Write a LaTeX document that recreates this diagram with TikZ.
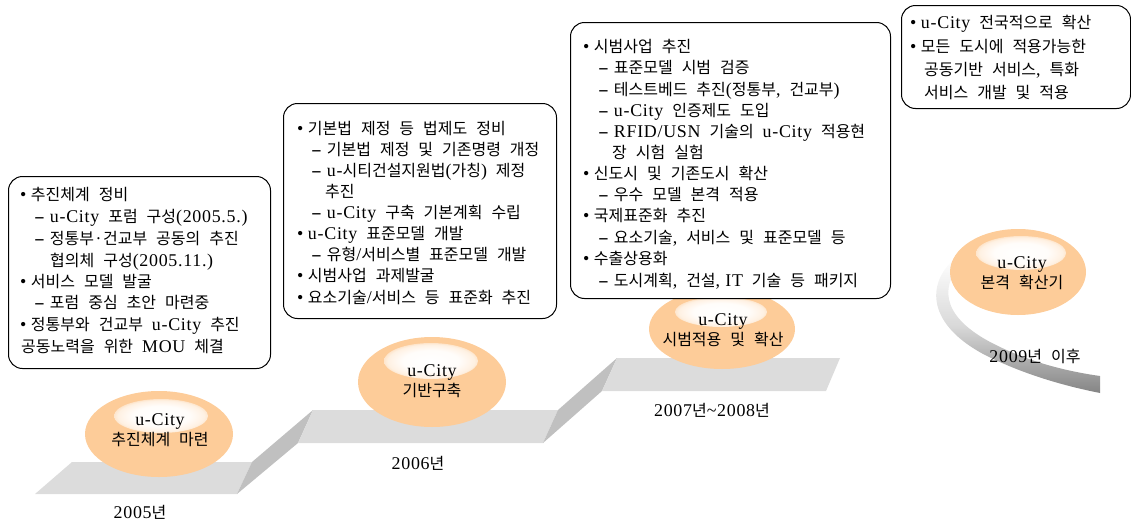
\documentclass[tikz,border=0pt]{standalone}
\usepackage{fontspec}
\setmainfont{Noto Sans CJK KR}[WordSpace=2.5]
\newfontfamily\lat{Liberation Serif}[Scale=1.12, LetterSpace=4]
\newcommand\ltn[1]{{\lat #1}}
\newcommand\bul{{\lat •}\hspace{4.5pt}}
\newcommand\dsh{{\lat\scalebox{1.8}[1]{-}}\hspace{5pt}}
\usetikzlibrary{shapes.geometric}
\definecolor{peach}{RGB}{253,204,153}
\definecolor{stepface}{RGB}{220,220,220}
\definecolor{riser}{RGB}{192,192,192}
\colorlet{hlA}{white!95!peach}
\colorlet{hlB}{white!72!peach}
\pgfdeclareradialshading{hilite}{\pgfpoint{0bp}{0bp}}{color(0bp)=(white); color(15bp)=(hlA); color(23bp)=(hlB); color(30bp)=(peach); color(100bp)=(peach)}
\tikzset{
  txt/.style={anchor=base west, inner sep=0pt, font=\fontsize{16}{18}\selectfont},
  yr/.style={inner sep=0pt, font=\fontsize{16}{18}\selectfont},
  tbox/.style={draw=black, line width=1pt, rounded corners=14pt, fill=white, anchor=north west, inner sep=0pt},
  stage/.style={ellipse, fill=peach, inner sep=0pt},
  stagetxt/.style={align=center, inner sep=0pt, font=\fontsize{16}{19.5}\selectfont},
  hl/.style={shading=hilite},
  face/.style={fill=stepface},
  rise/.style={fill=riser}
}
\begin{document}
\begin{tikzpicture}[x=1pt,y=-1pt]
\useasboundingbox (0,0) rectangle (1131,522);
% steps
\fill[face] (72,462) -- (252,462) -- (237,494) -- (35,494) -- cycle;
\fill[rise] (252,462) -- (313,410) -- (298,443) -- (237,494) -- cycle;
\fill[face] (313,410) -- (558,410) -- (543,443) -- (298,443) -- cycle;
\fill[rise] (558,410) -- (617,358) -- (602,391) -- (543,443) -- cycle;
\fill[face] (617,358) -- (840,358) -- (826,391) -- (602,391) -- cycle;
% swoosh
\shade[top color=white, bottom color=black!48, middle color=black!15]
  (955,258) .. controls (925,285) and (928,325) .. (985,355)
  .. controls (1025,375) and (1065,386) .. (1100,393)
  -- (1100,376) .. controls (1065,371) and (1030,362) .. (996,345)
  .. controls (945,320) and (937,290) .. (962,262) -- cycle;
% stages
\node[stage, minimum width=148pt, minimum height=86pt] (e1) at (159,434) {};
\shade[hl] (161,416) ellipse (47 and 17);
\node[stagetxt] (e1t) at (160,430) {\ltn{u-City}\\추진체계 마련};
\node[stage, minimum width=148pt, minimum height=90pt] (e2) at (432,382) {};
\shade[hl] (431,361) ellipse (47 and 18);
\node[stagetxt] (e2t) at (432,381) {\ltn{u-City}\\기반구축};
\node[stage, minimum width=146pt, minimum height=80pt] (e3) at (722,329) {};
\shade[hl] (721,312) ellipse (46 and 15);
\node[stagetxt] (e3t) at (723,330) {\ltn{u-City}\\시범적용 및 확산};
\node[stage, minimum width=136pt, minimum height=86pt] (e4) at (1018,272) {};
\shade[hl] (1021,253) ellipse (45 and 17);
\node[stagetxt] (e4t) at (1022,273) {\ltn{u-City}\\본격 확산기};
% year labels
\node[yr] (y1) at (140,512) {\ltn{2005}년};
\node[yr] (y2) at (418,463) {\ltn{2006}년};
\node[yr] (y3) at (712,410) {\ltn{2007}년\ltn{\textasciitilde 2008}년};
\node[yr] (y4) at (1035,356) {\ltn{2009}년 이후};
% boxes
\node[tbox, minimum width=262pt, minimum height=192pt] (box1) at (8,176) {};
\node[tbox, minimum width=273pt, minimum height=215pt] (box2) at (283,103) {};
\node[tbox, minimum width=320pt, minimum height=276pt] (box3) at (570,22) {};
\node[tbox, minimum width=229pt, minimum height=103pt] (box4) at (901,5) {};
% box 1 text
\node[txt] (a1) at (20,200) {\bul 추진체계 정비};
\node[txt] (a2) at (34,222) {\dsh\ltn{u-City} 포럼 구성\ltn{(2005.5.)}};
\node[txt] (a3) at (34,244) {\dsh 정통부·건교부 공동의 추진};
\node[txt] (a4) at (50,266) {협의체 구성\ltn{(2005.11.)}};
\node[txt] (a5) at (20,287) {\bul 서비스 모델 발굴};
\node[txt] (a6) at (34,308) {\dsh 포럼 중심 초안 마련중};
\node[txt] (a7) at (20,330) {\bul 정통부와 건교부 \ltn{u-City} 추진};
\node[txt] (a8) at (21,352) {공동노력을 위한 \ltn{MOU} 체결};
% box 2 text
\node[txt] (b1) at (297,134) {\bul 기본법 제정 등 법제도 정비};
\node[txt] (b2) at (311,155) {\dsh 기본법 제정 및 기존명령 개정};
\node[txt] (b3) at (311,176) {\dsh\ltn{u-}시티건설지원법\ltn{(}가칭\ltn{)} 제정};
\node[txt] (b4) at (325,197) {추진};
\node[txt] (b5) at (311,218) {\dsh\ltn{u-City} 구축 기본계획 수립};
\node[txt] (b6) at (297,239) {\bul\ltn{u-City} 표준모델 개발};
\node[txt] (b7) at (311,260) {\dsh 유형\ltn{/}서비스별 표준모델 개발};
\node[txt] (b8) at (297,281) {\bul 시범사업 과제발굴};
\node[txt] (b9) at (297,303) {\bul 요소기술\ltn{/}서비스 등 표준화 추진};
% box 3 text
\node[txt] (c1) at (583,52) {\bul 시범사업 추진};
\node[txt] (c2) at (598,73) {\dsh 표준모델 시범 검증};
\node[txt] (c3) at (598,95) {\dsh 테스트베드 추진\ltn{(}정통부\ltn{,} 건교부\ltn{)}};
\node[txt] (c4) at (598,116) {\dsh\ltn{u-City} 인증제도 도입};
\node[txt] (c5) at (598,137) {\dsh\ltn{RFID/USN} 기술의 \ltn{u-City} 적용현};
\node[txt] (c6) at (612,158) {장 시험 실험};
\node[txt] (c7) at (583,179) {\bul 신도시 및 기존도시 확산};
\node[txt] (c8) at (598,200) {\dsh 우수 모델 본격 적용};
\node[txt] (c9) at (583,221) {\bul 국제표준화 추진};
\node[txt] (c10) at (598,243) {\dsh 요소기술\ltn{,} 서비스 및 표준모델 등};
\node[txt] (c11) at (583,264) {\bul 수출상용화};
\node[txt] (c12) at (598,286) {\dsh 도시계획\ltn{,} 건설\ltn{, IT} 기술 등 패키지};
% box 4 text
\node[txt] (d1) at (910,28) {\bul\ltn{u-City} 전국적으로 확산};
\node[txt] (d2) at (910,52) {\bul 모든 도시에 적용가능한};
\node[txt] (d3) at (924,75) {공동기반 서비스\ltn{,} 특화};
\node[txt] (d4) at (924,98) {서비스 개발 및 적용};
\end{tikzpicture}
\end{document}
